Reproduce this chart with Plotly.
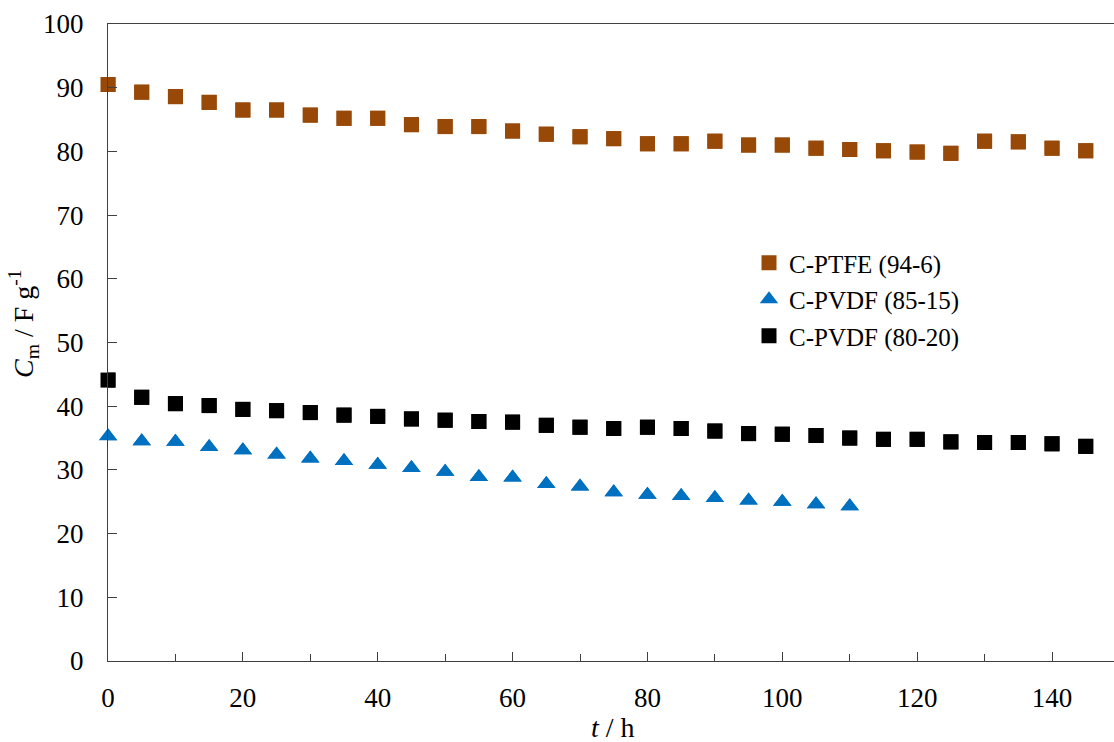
import plotly.graph_objects as go

# Specific capacitance over time for three electrode formulations
t_ptfe = [0, 5, 10, 15, 20, 25, 30, 35, 40, 45, 50, 55, 60, 65, 70, 75,
          80, 85, 90, 95, 100, 105, 110, 115, 120, 125, 130, 135, 140, 145, 150]
cm_ptfe = [90.5, 89.3, 88.6, 87.7, 86.5, 86.5, 85.7, 85.2, 85.2, 84.2, 83.9,
           83.9, 83.2, 82.7, 82.3, 82.0, 81.2, 81.2, 81.6, 81.0, 81.0, 80.5,
           80.3, 80.1, 79.9, 79.7, 81.6, 81.5, 80.5, 80.1, 80.7]

t_pvdf85 = [0, 5, 10, 15, 20, 25, 30, 35, 40, 45, 50, 55,
            60, 65, 70, 75, 80, 85, 90, 95, 100, 105, 110]
cm_pvdf85 = [35.3, 34.5, 34.4, 33.6, 33.1, 32.4, 31.8, 31.4, 30.8, 30.3, 29.7,
             28.9, 28.8, 27.8, 27.4, 26.5, 26.1, 25.9, 25.6, 25.2, 25.0, 24.6, 24.3]

t_pvdf80 = [0, 5, 10, 15, 20, 25, 30, 35, 40, 45, 50, 55, 60, 65, 70, 75,
            80, 85, 90, 95, 100, 105, 110, 115, 120, 125, 130, 135, 140, 145, 150]
cm_pvdf80 = [44.1, 41.4, 40.4, 40.1, 39.5, 39.3, 39.0, 38.6, 38.4, 38.0, 37.8,
             37.6, 37.5, 37.0, 36.7, 36.5, 36.7, 36.5, 36.1, 35.7, 35.6, 35.4,
             35.0, 34.8, 34.8, 34.4, 34.3, 34.3, 34.1, 33.7, 33.3]

names = ["C-PTFE (94-6)", "C-PVDF (85-15)", "C-PVDF (80-20)"]

FONT = "Liberation Serif"
AXIS_COLOR = "#404040"

series = [
    (t_ptfe, cm_ptfe, names[0], "a", dict(symbol="square", size=15, color="#984807")),
    (t_pvdf85, cm_pvdf85, names[1], "b", dict(symbol="triangle-up", size=16, color="#0070C0")),
    (t_pvdf80, cm_pvdf80, names[2], "c", dict(symbol="square", size=15, color="#000000")),
]

fig = go.Figure()
# Clipped layer: shows markers that run past the right edge of the plot area
for x, y, name, grp, mk in series:
    fig.add_trace(go.Scatter(x=x, y=y, mode="markers", name=name, legendgroup=grp,
                             showlegend=False, cliponaxis=True, marker=mk,
                             hoverinfo="skip"))
# Unclipped layer: markers sitting on the axes are drawn whole
for x, y, name, grp, mk in series:
    fig.add_trace(go.Scatter(x=x, y=y, mode="markers", name=name, legendgroup=grp,
                             cliponaxis=False, marker=mk))

L, T, B = 108, 24, 81
W, H = 1114, 742
plot_w = W - L
plot_h = H - T - B
PX_PER_HOUR = 6.743

fig.update_layout(
    width=W, height=H,
    margin=dict(l=L, r=0, t=T, b=B, pad=0),
    paper_bgcolor="white", plot_bgcolor="white",
    font=dict(family=FONT, size=25, color="black"),
    showlegend=True,
    legend=dict(x=(749 - L) / plot_w, y=(H - B - 240) / plot_h,
                xanchor="left", yanchor="top",
                font=dict(family=FONT, size=25, color="black"),
                bgcolor="rgba(0,0,0,0)", tracegroupgap=1,
                itemsizing="trace"),
    xaxis=dict(range=[0, plot_w / PX_PER_HOUR], showgrid=False, zeroline=False,
               showline=True, linecolor=AXIS_COLOR, linewidth=1.3, mirror=True,
               ticks="inside", ticklen=9, tickwidth=1.3, tickcolor=AXIS_COLOR,
               dtick=20, tick0=0, ticklabelstandoff=12,
               tickfont=dict(family=FONT, size=27, color="black"),
               minor=dict(dtick=10, ticks="inside", ticklen=7, tickwidth=1.3,
                          tickcolor=AXIS_COLOR, showgrid=False)),
    yaxis=dict(range=[0, 100], showgrid=False, zeroline=False,
               showline=True, linecolor=AXIS_COLOR, linewidth=1.3,
               ticks="inside", ticklen=9, tickwidth=1.3, tickcolor=AXIS_COLOR,
               dtick=10, tick0=0, ticklabelstandoff=18,
               tickfont=dict(family=FONT, size=27, color="black")),
    annotations=[
        dict(text="<i>C</i><sub>m</sub> / F g<sup>-1</sup>", textangle=-90,
             xref="paper", yref="paper", x=(23 - L) / plot_w, y=(H - B - 324) / plot_h,
             xanchor="center", yanchor="middle", showarrow=False,
             font=dict(family=FONT, size=28, color="black")),
        dict(text="<i>t</i> / h",
             xref="paper", yref="paper", x=(613 - L) / plot_w, y=(H - B - 727) / plot_h,
             xanchor="center", yanchor="middle", showarrow=False,
             font=dict(family=FONT, size=28, color="black")),
    ],
)

fig.write_html("out.html")
